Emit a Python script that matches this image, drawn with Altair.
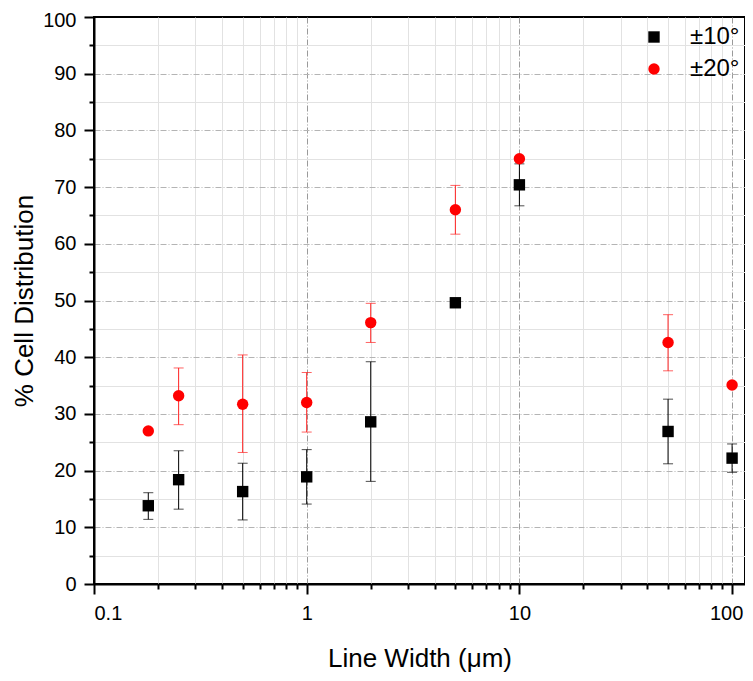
import altair as alt
import pandas as pd

# ---- data ----
line_width = [0.18, 0.25, 0.5, 1, 2, 5, 10, 50, 100]

pct_10 = [13.8, 18.4, 16.3, 18.9, 28.6, 49.6, 70.4, 26.9, 22.2]
low_10 = [11.4, 13.2, 11.3, 14.1, 18.1, None, 66.7, 21.2, 19.7]
high_10 = [16.1, 23.5, 21.3, 23.7, 39.2, None, 74.1, 32.6, 24.7]

pct_20 = [27.0, 33.2, 31.7, 32.0, 46.1, 66.0, 75.0, 42.6, 35.1]
low_20 = [None, 28.1, 23.2, 26.8, 42.6, 61.7, None, 37.6, None]
high_20 = [None, 38.1, 40.4, 37.3, 49.5, 70.3, None, 47.5, None]

series_names = ["±10°", "±20°"]
series_colors = ["#000000", "#ff0000"]
series_shapes = ["square", "circle"]

x_tick_values = [0.1, 0.2, 0.3, 0.4, 0.5, 0.6, 0.7, 0.8, 0.9,
                 1, 2, 3, 4, 5, 6, 7, 8, 9,
                 10, 20, 30, 40, 50, 60, 70, 80, 90, 100]
y_tick_values = list(range(0, 101, 5))

rows = []
for name, ys, lo, hi in [(series_names[0], pct_10, low_10, high_10),
                         (series_names[1], pct_20, low_20, high_20)]:
    for x, y, l, h in zip(line_width, ys, lo, hi):
        rows.append({"series": name, "x": x, "y": y, "lo": l, "hi": h})
df = pd.DataFrame(rows)
err = df.dropna(subset=["lo", "hi"])

major_x_test = "indexof([0.1,1,10,100], datum.value) >= 0"
major_y_test = "datum.value % 10 == 0"

x_axis = alt.Axis(
    values=x_tick_values,
    format="~g",
    labelExpr=f"{major_x_test} ? datum.label : ''",
    labelOverlap=False,
    labelOffset={"condition": {"test": "datum.value == 100", "value": -6}, "value": 0},
    tickSize={"condition": {"test": major_x_test, "value": 10}, "value": 5},
    gridColor={"condition": {"test": major_x_test, "value": "#9a9a9a"}, "value": "#e2e2e2"},
    gridDash={"condition": {"test": major_x_test, "value": [6, 2, 1, 2]}, "value": []},
    gridOpacity={"condition": {"test": "datum.value == 0.1", "value": 0}, "value": 1},
    labelPadding=9,
    titlePadding=22,
)
y_axis = alt.Axis(
    values=y_tick_values,
    labelExpr=f"{major_y_test} ? datum.label : ''",
    labelOverlap=False,
    labelOffset={"condition": {"test": "datum.value == 100", "value": 3}, "value": 0},
    tickSize={"condition": {"test": major_y_test, "value": 10}, "value": 5},
    gridColor={"condition": {"test": major_y_test, "value": "#b4b4b4"}, "value": "#e2e2e2"},
    gridDash={"condition": {"test": major_y_test, "value": [6, 2, 1, 2]}, "value": []},
    gridOpacity={"condition": {"test": "datum.value == 0 || datum.value == 100", "value": 0}, "value": 1},
    labelPadding=8,
    titlePadding=5,
)

x_scale = alt.Scale(type="log", domain=[0.1, 115], nice=False)
y_scale = alt.Scale(domain=[0, 100], nice=False)
color_scale = alt.Scale(domain=series_names, range=series_colors)
shape_scale = alt.Scale(domain=series_names, range=series_shapes)

X = lambda f: alt.X(f"{f}:Q", scale=x_scale, axis=x_axis, title="Line Width (μm)")
Y = lambda f: alt.Y(f"{f}:Q", scale=y_scale, axis=y_axis, title="% Cell Distribution")

err_color = alt.condition(f"datum.series == '{series_names[0]}'",
                          alt.value(series_colors[0]), alt.value("#ff2020"))

rules = alt.Chart(err).mark_rule(strokeWidth=1).encode(
    x=X("x"), y=Y("lo"), y2="hi:Q", color=err_color,
)
cap_lo = alt.Chart(err).mark_tick(orient="horizontal", size=10, thickness=1).encode(
    x=X("x"), y=Y("lo"), color=err_color,
)
cap_hi = alt.Chart(err).mark_tick(orient="horizontal", size=10, thickness=1).encode(
    x=X("x"), y=Y("hi"), color=err_color,
)

legend = alt.Legend(
    title=None, orient="none", legendX=548, legendY=8,
    symbolSize=130, labelFontSize=24, labelFont="Liberation Sans",
    labelOffset=24, rowPadding=8, symbolStrokeWidth=0,
)
points = alt.Chart(df).mark_point(filled=True, size=130, opacity=1).encode(
    x=X("x"), y=Y("y"),
    color=alt.Color("series:N", scale=color_scale, legend=legend),
    shape=alt.Shape("series:N", scale=shape_scale, legend=legend),
    order=alt.Order("series:N"),
)

chart = alt.layer(rules, cap_lo, cap_hi, points).properties(
    width=651, height=567,
    autosize=alt.AutoSizeParams(type="none"),
    padding={"left": 86, "top": 9, "right": 0, "bottom": 88},
).configure_view(
    stroke="black", strokeWidth=2,
).configure_axis(
    domainColor="black", domainWidth=2,
    tickColor="black", tickWidth=2,
    labelFont="Liberation Sans", labelFontSize=20, labelColor="black",
    titleFont="Liberation Sans", titleFontSize=26, titleFontWeight="normal",
    titleColor="black", gridWidth=1,
).configure_legend(
    labelColor="black",
)

chart.save("out.html", embed_options={"renderer": "svg", "actions": False})
